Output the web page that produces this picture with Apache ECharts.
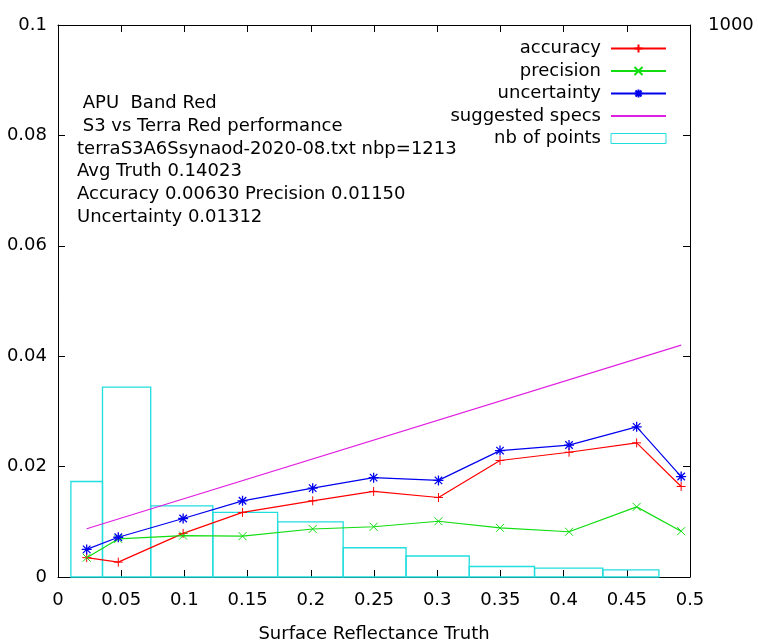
<!DOCTYPE html>
<html>
<head>
<meta charset="utf-8">
<script src="https://cdn.jsdelivr.net/npm/echarts@6/dist/echarts.min.js"></script>
<style>
  html, body { margin: 0; padding: 0; background: #fff; }
  #main { width: 758px; height: 643px; }
</style>
</head>
<body>
<div id="main"></div>
<script>
// surface reflectance truth (bin centres)
var truth = [0.0227, 0.0477, 0.099, 0.146, 0.2015, 0.2497, 0.301, 0.3497, 0.4043, 0.4578, 0.493];
var accuracy = [0.0035, 0.0027, 0.0079, 0.0117, 0.0138, 0.0155, 0.0144, 0.0211, 0.0226, 0.0243, 0.0164];
var precision = [0.0035, 0.0069, 0.0075, 0.0074, 0.0087, 0.0091, 0.0101, 0.0089, 0.0082, 0.0127, 0.0083];
var uncertainty = [0.0050, 0.0072, 0.0106, 0.0138, 0.0161, 0.0180, 0.0175, 0.0229, 0.0239, 0.0272, 0.0182];
var nbPoints = [173, 344, 129, 117, 100, 53, 38, 19, 16, 13, 0];
// suggested specs: straight line, end points only
var specsX = [0.0227, 0.493];
var specsY = [0.00875, 0.0420];

var infoLines = [
  ' APU  Band Red',
  ' S3 vs Terra Red performance',
  'terraS3A6Ssynaod-2020-08.txt nbp=1213',
  'Avg Truth 0.14023',
  'Accuracy 0.00630 Precision 0.01150',
  'Uncertainty 0.01312'
];

var FONT = 'DejaVu Sans';
var FS = 18;
var plusPath = 'path://M0,-1L0,1M-1,0L1,0';
var crossPath = 'path://M-1,-1L1,1M-1,1L1,-1';
var starPath = 'path://M0,-1L0,1M-1,0L1,0M-0.75,-0.75L0.75,0.75M-0.75,0.75L0.75,-0.75';

function pairs(xs, ys) {
  return xs.map(function (x, i) { return [x, ys[i]]; });
}

// histogram boxes: edges halfway between neighbouring bins
var boxData = truth.map(function (x, i) {
  var n = truth.length;
  var left = i === 0 ? x - (truth[1] - truth[0]) / 2 : (truth[i - 1] + x) / 2;
  var right = i === n - 1 ? x + (x - truth[n - 2]) / 2 : (x + truth[i + 1]) / 2;
  return [x, nbPoints[i], left, right];
});

function axisBase() {
  return {
    axisLine: { show: true, onZero: false, lineStyle: { color: '#000', width: 1 } },
    axisTick: { show: true, inside: true, length: 7, lineStyle: { color: '#000' } },
    splitLine: { show: false }
  };
}

var chart = echarts.init(document.getElementById('main'));

var option = {
  backgroundColor: '#fff',
  animation: false,
  textStyle: { fontFamily: FONT },
  grid: { left: 58, right: 68, top: 25, bottom: 66, containLabel: false, outerBoundsMode: 'none' },
  legend: {
    orient: 'vertical',
    right: 91,
    top: 39.5,
    padding: 0,
    align: 'right',
    itemWidth: 55,
    itemHeight: 10,
    itemGap: 4.5,
    textStyle: { fontFamily: FONT, fontSize: FS, color: '#000', padding: [0, 5, 0, 0] },
    data: [
      { name: 'accuracy' },
      { name: 'precision' },
      { name: 'uncertainty' },
      { name: 'suggested specs', itemStyle: { opacity: 0 } },
      { name: 'nb of points', icon: 'rect',
        itemStyle: { color: 'rgba(0,0,0,0)', borderColor: '#22dddd', borderWidth: 1 } }
    ]
  },
  xAxis: [Object.assign(axisBase(), {
    type: 'value', min: 0, max: 0.5, interval: 0.05,
    name: 'Surface Reflectance Truth', nameLocation: 'middle', nameGap: 48,
    nameTextStyle: { fontFamily: FONT, fontSize: FS, color: '#000' },
    axisLabel: { fontFamily: FONT, fontSize: FS, color: '#000', margin: 14 }
  }), Object.assign(axisBase(), {
    type: 'value', min: 0, max: 0.5, interval: 0.05, position: 'top',
    axisLabel: { show: false }
  })],
  yAxis: [Object.assign(axisBase(), {
    type: 'value', min: 0, max: 0.1, interval: 0.02,
    axisLabel: { fontFamily: FONT, fontSize: FS, color: '#000', margin: 11 }
  }), Object.assign(axisBase(), {
    type: 'value', min: 0, max: 1000, interval: 200, position: 'right',
    axisLabel: {
      fontFamily: FONT, fontSize: FS, color: '#000', margin: 18,
      formatter: function (v) { return v === 1000 ? '1000' : ''; }
    }
  })],
  graphic: [{
    type: 'text',
    left: 77,
    top: 92,
    style: {
      text: infoLines.join('\n'),
      fontFamily: FONT,
      fontSize: FS,
      lineHeight: 22.8,
      fill: '#000'
    }
  }],
  series: [
    {
      name: 'accuracy', type: 'line', data: pairs(truth, accuracy),
      symbol: plusPath, symbolSize: 9,
      lineStyle: { color: '#ff0000', width: 1.2 },
      itemStyle: { color: '#ff0000', borderColor: '#ff0000', borderWidth: 1 }
    },
    {
      name: 'precision', type: 'line', data: pairs(truth, precision),
      symbol: crossPath, symbolSize: 8,
      lineStyle: { color: '#11dd11', width: 1.2 },
      itemStyle: { color: '#11dd11', borderColor: '#11dd11', borderWidth: 1 }
    },
    {
      name: 'uncertainty', type: 'line', data: pairs(truth, uncertainty),
      symbol: starPath, symbolSize: 10,
      lineStyle: { color: '#0000ee', width: 1.2 },
      itemStyle: { color: '#0000ee', borderColor: '#0000ee', borderWidth: 1.3 }
    },
    {
      name: 'suggested specs', type: 'line', data: pairs(specsX, specsY),
      showSymbol: false,
      lineStyle: { color: '#e020e0', width: 1.2 },
      itemStyle: { color: '#e020e0' }
    },
    {
      name: 'nb of points', type: 'custom', yAxisIndex: 1,
      data: boxData,
      itemStyle: { color: '#22dddd' },
      renderItem: function (params, api) {
        var h = api.value(1);
        if (!h) return null;
        var p0 = api.coord([api.value(2), h]);
        var p1 = api.coord([api.value(3), 0]);
        return {
          type: 'rect',
          shape: { x: p0[0], y: p0[1], width: p1[0] - p0[0], height: p1[1] - p0[1] },
          style: { fill: null, stroke: '#22dddd', lineWidth: 1.3 }
        };
      }
    }
  ]
};

chart.setOption(option);
</script>
</body>
</html>
